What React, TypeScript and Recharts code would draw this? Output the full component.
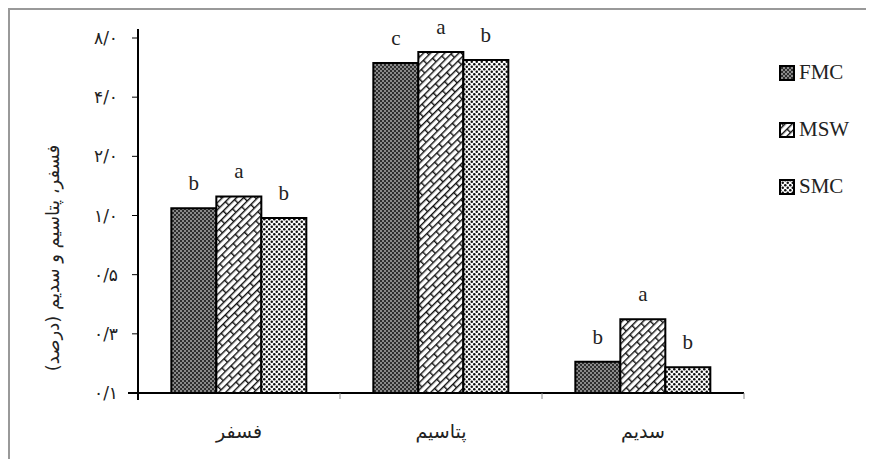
import React from 'react';
import { BarChart, Bar, XAxis, YAxis, Legend, LabelList } from 'recharts';

const CATEGORIES = ['فسفر', 'پتاسیم', 'سدیم'];
const FMC = [1.09, 5.97, 0.18];
const MSW = [1.25, 6.79, 0.297];
const SMC = [0.97, 6.18, 0.169];
const FMC_LETTERS = ['b', 'c', 'b'];
const MSW_LETTERS = ['a', 'a', 'a'];
const SMC_LETTERS = ['b', 'b', 'b'];
const Y_TICKS = [0.125, 0.25, 0.5, 1, 2, 4, 8];
const Y_TICK_LABELS = ['۰/۱', '۰/۳', '۰/۵', '۱/۰', '۲/۰', '۴/۰', '۸/۰'];
const Y_TITLE = 'فسفر، پتاسیم و سدیم (درصد)';

const SERIES = [
  { key: 'FMC', fill: 'url(#pFMC)', letters: FMC_LETTERS },
  { key: 'MSW', fill: 'url(#pMSW)', letters: MSW_LETTERS },
  { key: 'SMC', fill: 'url(#pSMC)', letters: SMC_LETTERS },
];

const data = CATEGORIES.map((name, i) => ({ name, FMC: FMC[i], MSW: MSW[i], SMC: SMC[i] }));

const W = 866;
const H = 451;
const PLOT_LEFT = 130;
const PLOT_TOP = 30;
const PLOT_BOTTOM = 385;
const BAND = 202;
const PERSIAN = '"DejaVu Sans", sans-serif';
const LATIN = '"Liberation Serif", "Times New Roman", serif';

const XTick = (props: any) => {
  const { x, payload } = props;
  return (
    <g>
      <line x1={x + BAND / 2} x2={x + BAND / 2} y1={PLOT_BOTTOM} y2={PLOT_BOTTOM + 6} stroke="#888" strokeWidth={1} />
      <text x={x} y={PLOT_BOTTOM + 45} textAnchor="middle" fontFamily={PERSIAN} fontSize={19} fill="#222">
        {payload.value}
      </text>
    </g>
  );
};

const YTick = (props: any) => {
  const { x, y, payload } = props;
  const idx = Y_TICKS.indexOf(payload.value);
  return (
    <text x={x} y={y} dy={6} textAnchor="end" fontFamily={PERSIAN} fontSize={17} fill="#222">
      {Y_TICK_LABELS[idx]}
    </text>
  );
};

// axis title plus the little overhang of both axis lines
const YTitle = () => (
  <g>
    <line x1={PLOT_LEFT} x2={PLOT_LEFT} y1={PLOT_TOP - 9} y2={PLOT_BOTTOM + 7} stroke="#000" strokeWidth={2} />
    <line x1={PLOT_LEFT - 10} x2={PLOT_LEFT} y1={PLOT_BOTTOM} y2={PLOT_BOTTOM} stroke="#000" strokeWidth={2} />
    <text
      x={44}
      y={250}
      transform="rotate(-90, 44, 250)"
      textAnchor="middle"
      dominantBaseline="central"
      fontFamily={PERSIAN}
      fontSize={18}
      fill="#222"
    >
      {Y_TITLE}
    </text>
  </g>
);

const letterLabel = (letters: string[]) => (props: any) => {
  const { x, y, width, index } = props;
  return (
    <text x={x + width / 2} y={y - 18} textAnchor="middle" fontFamily={LATIN} fontSize={21} fill="#222">
      {letters[index]}
    </text>
  );
};

const renderLegend = () => (
  <div>
    {SERIES.map((s) => (
      <div key={s.key} style={{ display: 'flex', alignItems: 'center', height: 57 }}>
        <svg width={16} height={16}>
          <rect x={1} y={1} width={14} height={14} fill={s.fill} stroke="#000" strokeWidth={2} />
        </svg>
        <span style={{ marginLeft: 4, fontFamily: LATIN, fontSize: 21, color: '#222' }}>{s.key}</span>
      </div>
    ))}
  </div>
);

export default function App() {
  return (
    <div style={{ position: 'relative', width: W, height: H }}>
      <div style={{ position: 'absolute', left: 0, top: 0, width: W, height: 2, background: '#999' }} />
      <div style={{ position: 'absolute', left: 0, top: 0, width: 2, height: H, background: '#999' }} />
      <div style={{ position: 'absolute', left: 0, top: 0 }}>
        <BarChart
          width={W}
          height={H}
          data={data}
          margin={{ top: PLOT_TOP, right: 130, bottom: 6, left: 70 }}
          barCategoryGap="16.5%"
          barGap={0}
        >
          <defs>
            <pattern id="pFMC" width={4} height={4} patternUnits="userSpaceOnUse">
              <rect width={4} height={4} fill="#8a8a8a" />
              <rect x={0} y={0} width={2} height={2} fill="#2e2e2e" />
              <rect x={2} y={2} width={2} height={2} fill="#2e2e2e" />
            </pattern>
            <pattern id="pMSW" width={16} height={10} patternUnits="userSpaceOnUse" patternTransform="rotate(-45)">
              <rect width={16} height={10} fill="#fff" />
              <rect x={0} y={0} width={16} height={1.4} fill="#111" />
              <rect x={0} y={5} width={16} height={1.4} fill="#111" />
              <rect x={0} y={0} width={1.4} height={5} fill="#111" />
              <rect x={8} y={5} width={1.4} height={5} fill="#111" />
            </pattern>
            <pattern id="pSMC" width={5} height={5} patternUnits="userSpaceOnUse">
              <rect width={5} height={5} fill="#fff" />
              <circle cx={1.25} cy={1.25} r={1.25} fill="#111" />
              <circle cx={3.75} cy={3.75} r={1.25} fill="#111" />
            </pattern>
          </defs>
          <XAxis
            dataKey="name"
            height={60}
            axisLine={{ stroke: '#000', strokeWidth: 2 }}
            tickLine={false}
            tick={<XTick />}
            interval={0}
          />
          <YAxis
            type="number"
            scale="log"
            domain={[0.125, 8]}
            ticks={Y_TICKS}
            allowDataOverflow
            width={60}
            axisLine={{ stroke: '#000', strokeWidth: 2 }}
            tickLine={{ stroke: '#000', strokeWidth: 1 }}
            tickSize={6}
            tickMargin={14}
            tick={<YTick />}
            label={<YTitle />}
          />
          <Legend
            layout="vertical"
            align="center"
            verticalAlign="middle"
            content={renderLegend}
            wrapperStyle={{ left: 771, top: 36, width: 90, height: 171 }}
          />
          {SERIES.map((s) => (
            <Bar key={s.key} dataKey={s.key} fill={s.fill} stroke="#000" strokeWidth={2} isAnimationActive={false}>
              <LabelList dataKey={s.key} content={letterLabel(s.letters)} />
            </Bar>
          ))}
        </BarChart>
      </div>
    </div>
  );
}
